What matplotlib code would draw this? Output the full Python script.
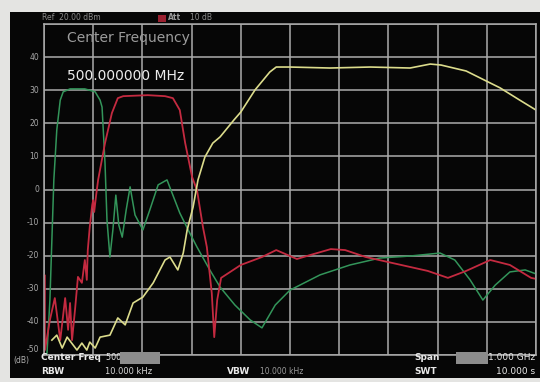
import matplotlib
matplotlib.use("Agg")
import matplotlib.pyplot as plt
from matplotlib.patches import Rectangle

# frequency axis: center 500 MHz, span 1 GHz -> 0..1000 MHz, level in dB
yellow_f = [16, 26, 37, 47, 67, 77, 87, 93, 104, 114, 134, 150, 165, 181, 201, 222, 246, 256,
            272, 283, 291, 303, 313, 327, 343, 358, 386, 400, 429, 459, 472, 500, 581, 663,
            744, 785, 807, 858, 927, 967, 1000]
yellow_db = [-45.5, -44, -47.9, -44.6, -48.5, -46.4, -48.5, -46.1, -47.9, -44.6, -44, -38.8,
             -40.9, -34.3, -32.5, -28.2, -21.3, -20.4, -24.3, -19.2, -12.2, -5.3, 2.9, 9.8,
             14.0, 15.9, 21.0, 23.4, 30.1, 35.5, 37.0, 37.0, 36.7, 37.0, 36.7, 37.9, 37.6,
             35.8, 30.7, 27.0, 24.0]

green_f = [6, 12, 16, 20, 26, 33, 39, 53, 83, 104, 114, 118, 124, 128, 134, 140, 146, 152,
           159, 167, 175, 185, 201, 215, 232, 250, 276, 293, 311, 337, 358, 388, 419, 443,
           470, 500, 561, 622, 683, 744, 805, 835, 866, 892, 917, 947, 978, 1000]
green_db = [-49.7, -33.4, -15.3, 2.9, 18.0, 27.0, 29.5, 30.4, 30.4, 29.5, 27.0, 24.9, 8.0,
            -9.2, -20.4, -12.2, -1.7, -10.7, -14.4, -6.2, 0.8, -7.7, -12.2, -6.2, 1.4, 2.9,
            -7.1, -12.2, -17.4, -24.3, -29.5, -34.9, -39.4, -41.8, -34.9, -30.4, -25.8,
            -22.8, -20.7, -20.1, -19.2, -21.3, -27.3, -33.4, -28.9, -24.9, -24.3, -25.5]

red_f = [0, 1, 2, 12, 22, 33, 43, 49, 53, 57, 63, 69, 77, 83, 87, 89, 93, 98, 100, 102, 106,
         110, 124, 138, 150, 161, 211, 246, 262, 276, 287, 301, 311, 323, 331, 341, 346, 352,
         360, 400, 443, 472, 514, 541, 583, 612, 654, 717, 780, 821, 858, 907, 947, 990, 1000]
red_db = [-50, -25.8, -48.5, -39.4, -32.8, -45.5, -32.8, -42.4, -34.3, -45.5, -36.4, -26.4,
          -28.2, -21.3, -27.3, -18.3, -11.3, -4.7, -3.2, -6.8, -1.7, 2.9, 14.0, 23.1, 27.6,
          28.2, 28.5, 28.2, 27.6, 24.0, 14.0, 3.8, -0.2, -11.3, -17.4, -31.3, -44.6, -33.4,
          -26.7, -22.8, -20.4, -18.3, -21.0, -19.8, -18.0, -18.3, -20.4, -22.5, -24.6,
          -26.7, -24.6, -21.3, -22.8, -26.7, -27.0]

level_ticks = [40, 30, 20, 10, 0, -10, -20, -30, -40, -50]

W, H = 540, 382


def px(x, y):
    return x / W, 1 - y / H


fig = plt.figure(figsize=(5.4, 3.82), dpi=100)
fig.patch.set_facecolor("#e4e4e2")

# black instrument screen
fig.patches.append(Rectangle(px(10, 378), 530 / W, 366 / H, transform=fig.transFigure,
                             facecolor="#060606", edgecolor="none", zorder=-1))

left, bottom = px(44, 355)
right, top = px(536, 24)
ax = fig.add_axes([left, bottom, right - left, top - bottom])
ax.set_facecolor("#060606")

ax.plot(green_f, green_db, color="#33955a", lw=1.1)
ax.plot(red_f, red_db, color="#c42a40", lw=1.3)
ax.plot(yellow_f, yellow_db, color="#dcdc8c", lw=1.2)

ax.set_xlim(0, 1000)
ax.set_ylim(-50, 50)
ax.set_xticks(range(0, 1001, 100))
ax.set_yticks(range(-50, 51, 10))
ax.grid(True, color="#ababab", lw=1.1)
ax.set_axisbelow(True)
ax.tick_params(length=0, labelbottom=False, labelleft=False)
for s in ax.spines.values():
    s.set_color("#ababab")
    s.set_linewidth(1.1)

# level labels on the left
for v in level_ticks:
    y = 24 + (50 - v) * 3.31
    if v == -50:
        y -= 5
    fig.text(*px(39, y), str(v), color="#a8a8a8", fontsize=5.5, ha="right", va="center")

# header
fig.text(*px(42, 18), "Ref  20.00 dBm", color="#8a8a8a", fontsize=5.5, va="center")
fig.patches.append(Rectangle(px(158, 22), 8 / W, 7 / H, transform=fig.transFigure,
                             facecolor="#9a2030", edgecolor="none"))
fig.text(*px(168, 18), "Att", color="#9a9a9a", fontsize=5.5, va="center", weight="bold")
fig.text(*px(190, 18), "10 dB", color="#8a8a8a", fontsize=5.5, va="center")

# marker readout
fig.text(*px(67, 38), "Center Frequency", color="#9c9c9c", fontsize=10, va="center")
fig.text(*px(67, 76), "500.000000 MHz", color="#ececec", fontsize=10, va="center")

# bottom info bar
fig.text(*px(13, 361), "(dB)", color="#b0b0b0", fontsize=5.5, va="center")
fig.text(*px(41, 358), "Center Freq", color="#e8e8e8", fontsize=6.5, va="center", weight="bold")
fig.text(*px(106, 358), "500.000 MHz", color="#e8e8e8", fontsize=5.8, va="center")
fig.patches.append(Rectangle(px(120, 364), 40 / W, 12 / H, transform=fig.transFigure,
                             facecolor="#8c8c8c", edgecolor="none", zorder=5))
fig.text(*px(41, 372), "RBW", color="#e8e8e8", fontsize=6.5, va="center", weight="bold")
fig.text(*px(105, 372), "10.000 kHz", color="#d8d8d8", fontsize=6, va="center")
fig.text(*px(227, 372), "VBW", color="#e8e8e8", fontsize=6.5, va="center", weight="bold")
fig.text(*px(260, 372), "10.000 kHz", color="#9a9a9a", fontsize=5.5, va="center")
fig.text(*px(414, 358), "Span", color="#e8e8e8", fontsize=6.5, va="center", weight="bold")
fig.text(*px(535, 358), "1.000 GHz", color="#e8e8e8", fontsize=6.5, va="center", ha="right")
fig.patches.append(Rectangle(px(456, 364), 32 / W, 12 / H, transform=fig.transFigure,
                             facecolor="#8c8c8c", edgecolor="none", zorder=5))
fig.text(*px(414, 372), "SWT", color="#e8e8e8", fontsize=6.5, va="center", weight="bold")
fig.text(*px(535, 372), "10.000 s", color="#e8e8e8", fontsize=6.5, va="center", ha="right")

fig.savefig("out.png", dpi=100, facecolor=fig.get_facecolor())
